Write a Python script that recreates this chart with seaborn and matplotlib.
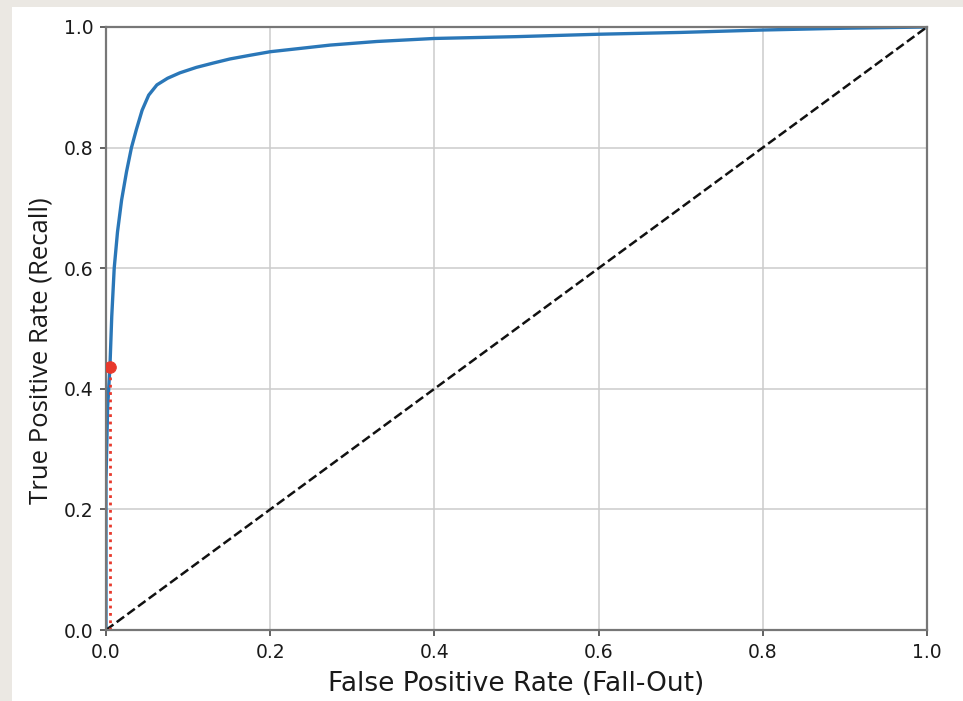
import numpy as np
import pandas as pd
import matplotlib
matplotlib.use("Agg")
import matplotlib.pyplot as plt
from matplotlib.patches import Rectangle
import seaborn as sns

# ROC curve values
fpr = [0.0, 0.0, 0.002, 0.0048, 0.007, 0.010, 0.014, 0.019, 0.025, 0.031, 0.037,
       0.044, 0.052, 0.062, 0.075, 0.090, 0.110, 0.130, 0.151, 0.175, 0.200,
       0.240, 0.273, 0.330, 0.400, 0.500, 0.600, 0.700, 0.800, 0.900, 1.0]
tpr = [0.0, 0.25, 0.37, 0.4368, 0.52, 0.60, 0.66, 0.713, 0.76, 0.80, 0.83,
       0.862, 0.887, 0.904, 0.915, 0.924, 0.933, 0.940, 0.947, 0.953, 0.959,
       0.965, 0.970, 0.976, 0.981, 0.984, 0.988, 0.991, 0.995, 0.998, 1.0]
diag_x = [0.0, 1.0]
diag_y = [0.0, 1.0]
point_fpr = [0.0048]
point_tpr = [0.4368]
ticks = [0.0, 0.2, 0.4, 0.6, 0.8, 1.0]
tick_labels = ["0.0", "0.2", "0.4", "0.6", "0.8", "1.0"]

sns.set_style("whitegrid")
plt.rcParams['font.family'] = ['DejaVu Sans']

fig = plt.figure(figsize=(9.63, 7.01), dpi=100, facecolor="white")
ax = fig.add_axes([106/963, 1-630/701, (927-106)/963, (630-27)/701])

roc = pd.DataFrame({"fpr": fpr, "tpr": tpr})
sns.lineplot(data=roc, x="fpr", y="tpr", ax=ax, sort=False, estimator=None,
             color="#2a77b8", linewidth=2.4)
sns.lineplot(x=diag_x, y=diag_y, ax=ax, color="#111111", linestyle=(0, (3.7, 1.6)),
             linewidth=1.8)
ax.plot([point_fpr[0], point_fpr[0]], [0.0, point_tpr[0]], linestyle=":",
        color="#e8392c", linewidth=2.0)
ax.plot([0.0, point_fpr[0]], [point_tpr[0], point_tpr[0]], linestyle=":",
        color="#e8392c", linewidth=2.0)
sns.scatterplot(x=point_fpr, y=point_tpr, ax=ax, color="#e8392c", s=70,
                edgecolor="#e8392c", zorder=5)

ax.set_xlim(0, 1)
ax.set_ylim(0, 1)
ax.set_xticks(ticks)
ax.set_xticklabels(tick_labels)
ax.set_yticks(ticks)
ax.set_yticklabels(tick_labels)
ax.grid(True, color="#cccccc", linewidth=1.1)
for s in ax.spines.values():
    s.set_visible(True)
    s.set_color("#777777")
    s.set_linewidth(1.6)
ax.tick_params(axis="both", which="major", length=4, width=1.3, color="#555555",
               direction="out", labelsize=13.5, labelcolor="#1a1a1a", pad=5,
               bottom=True, left=True)
ax.set_xlabel("False Positive Rate (Fall-Out)", fontsize=19, color="#1a1a1a",
              labelpad=7)
ax.set_ylabel("True Positive Rate (Recall)", fontsize=18.5, color="#1a1a1a",
              family=["Open Sans", "DejaVu Sans"])
ax.yaxis.set_label_coords(-0.064, 0.463)

bg = "#ebe8e3"
fig.patches.append(Rectangle((0, 0), 12/963, 1, transform=fig.transFigure,
                             facecolor=bg, edgecolor="none", zorder=-1))
fig.patches.append(Rectangle((0, 1-7/701), 1, 7/701, transform=fig.transFigure,
                             facecolor=bg, edgecolor="none", zorder=-1))

fig.savefig("out.png", dpi=100, facecolor="white")
